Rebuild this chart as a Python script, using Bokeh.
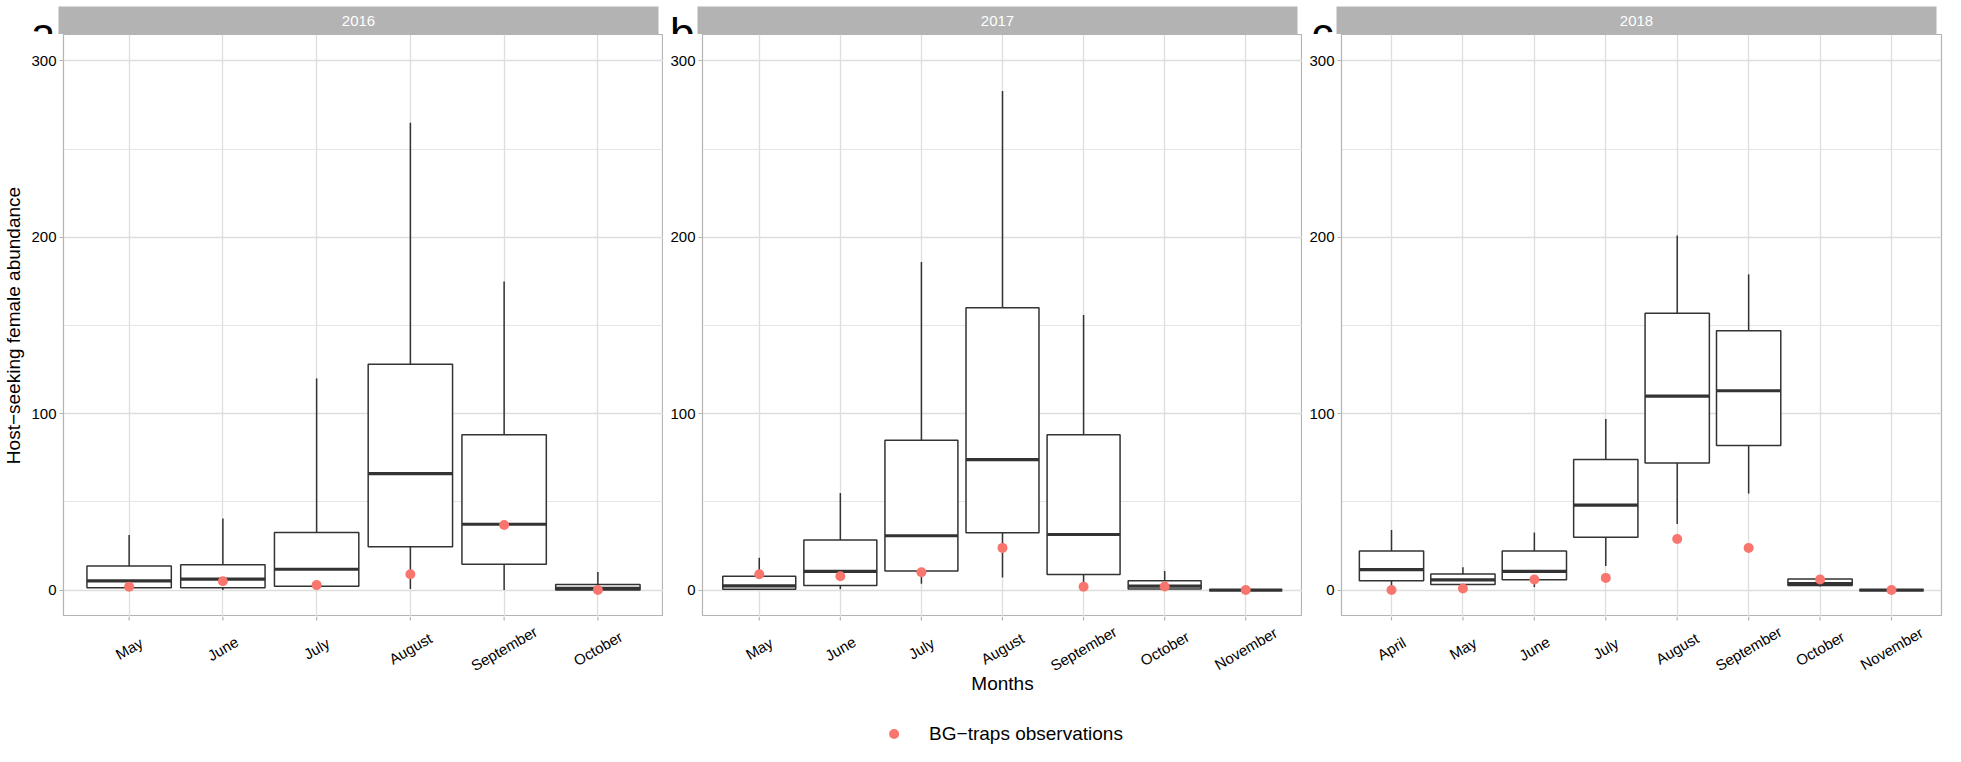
import math
import numpy as np
from bokeh.plotting import figure
from bokeh.models import (FactorRange, Range1d, FixedTicker, Label, Legend, LegendItem,
                          ColumnDataSource, BoxAnnotation)
from bokeh.layouts import row, column
from bokeh.embed import file_html
from bokeh.resources import INLINE
from bokeh.core.properties import value

# ---------------- data ----------------
years = ["2016", "2017", "2018"]
panel_tags = ["a", "b", "c"]

months_2016 = ["May", "June", "July", "August", "September", "October"]
low_2016 = [0, 0, 0.5, 0.6, 0, 0]
q1_2016 = [1.3, 1.3, 2.2, 24.6, 14.6, 0]
med_2016 = [5.2, 6.2, 11.8, 66, 37.3, 0.9]
q3_2016 = [13.6, 14.4, 32.6, 128, 88, 3.2]
high_2016 = [31.2, 40.5, 120, 265, 175, 10.3]
bg_2016 = [1.9, 5.0, 2.8, 9.0, 36.9, 0]

months_2017 = ["May", "June", "July", "August", "September", "October", "November"]
low_2017 = [0, 0.5, 3.5, 7.1, 1.5, 0, 0]
q1_2017 = [0.4, 2.6, 10.8, 32.5, 8.8, 0.6, 0]
med_2017 = [2.4, 10.6, 30.8, 74, 31.5, 2.2, 0]
q3_2017 = [7.8, 28.4, 85, 160, 88, 5.2, 0]
high_2017 = [18.3, 55, 186, 283, 156, 10.8, 0]
bg_2017 = [9.0, 7.8, 10.1, 23.9, 1.9, 2.0, 0]

months_2018 = ["April", "May", "June", "July", "August", "September", "October", "November"]
low_2018 = [0, 2.0, 1.7, 13.6, 37.5, 54.7, 2.0, 0]
q1_2018 = [5.2, 3.2, 5.8, 30, 72, 82, 2.6, 0]
med_2018 = [11.6, 5.8, 10.6, 48.1, 110, 113, 3.7, 0]
q3_2018 = [22.2, 9.1, 22.2, 74, 157, 147, 6.2, 0]
high_2018 = [34.1, 12.9, 32.6, 97, 201, 179, 6.2, 0]
bg_2018 = [0, 0.9, 6.0, 6.9, 28.9, 23.9, 6.0, 0]

y_ticks = [0, 100, 200, 300]
y_minor = [50, 150, 250]
y_title = "Host\u2212seeking female abundance"
x_title = "Months"
legend_label = "BG\u2212traps observations"

# ---------------- styling / layout constants ----------------
FONT = "Liberation Sans"
BOX_COLOR = "#333333"
DOT_COLOR = "#F8766D"
GRID = "#dedede"
BORDER = "#b3b3b3"

FRAME_W = 600
FRAME_H = 582
STRIP_H = 28
STRIP_TOP = 6        # white space above the grey strips (room for the tag letters)
LBL_H = 130          # ticks + rotated labels + axis title + legend
TICK_LEN = 4
LABEL_Y = 32         # px below panel bottom (label centres)
TITLE_Y = 67         # px below panel bottom ("Months")
LEFTS = [58, 39, 39]
RIGHTS = [0, 0, 2]

panels_data = [
    (months_2016, low_2016, q1_2016, med_2016, q3_2016, high_2016, bg_2016),
    (months_2017, low_2017, q1_2017, med_2017, q3_2017, high_2017, bg_2017),
    (months_2018, low_2018, q1_2018, med_2018, q3_2018, high_2018, bg_2018),
]

TOTAL_W = sum(LEFTS) + 3 * FRAME_W + sum(RIGHTS)

# ---- one full-width strip figure: grey facet strips, year labels and panel tags ----
strip_h = STRIP_TOP + STRIP_H
strips = figure(frame_width=TOTAL_W, frame_height=strip_h, x_range=Range1d(0, TOTAL_W),
                y_range=Range1d(0, strip_h), x_axis_location=None, y_axis_location=None,
                toolbar_location=None, output_backend="svg", title=None,
                min_border_left=0, min_border_right=0, min_border_top=0, min_border_bottom=0)
strips.background_fill_color = "white"
strips.outline_line_color = None
strips.grid.visible = False
x0 = 0
for i in range(3):
    fl = x0 + LEFTS[i]
    strips.add_layout(BoxAnnotation(left=fl, right=fl + FRAME_W, bottom=0, top=STRIP_H,
                                    fill_color=BORDER, fill_alpha=1.0, line_color=None))
    strips.add_layout(Label(x=fl + FRAME_W / 2, y=STRIP_H / 2, text=years[i],
                            text_align="center", text_baseline="middle",
                            text_color="white", text_font_size="15px", text_font=FONT))
    strips.add_layout(Label(x=fl - 3, y=1, text=panel_tags[i], text_align="right",
                            text_baseline="alphabetic", text_color="black",
                            text_font_size="44px", text_font=FONT))
    x0 = fl + FRAME_W + RIGHTS[i]


def build(i, months, low, q1, med, q3, high, bg):
    left, right = LEFTS[i], RIGHTS[i]
    common = dict(frame_width=FRAME_W, toolbar_location=None, output_backend="svg",
                  min_border_left=left, min_border_right=right, title=None,
                  min_border_top=0, min_border_bottom=0)

    # ---- panel ----
    src = ColumnDataSource(dict(month=months, low=low, q1=q1, med=med, q3=q3,
                                high=high, bg=bg))
    xr = FactorRange(factors=months, range_padding=0.2, range_padding_units="absolute")
    p = figure(frame_height=FRAME_H, x_range=xr, y_range=Range1d(-15, 315), **common)
    p.background_fill_color = "white"
    p.outline_line_color = BORDER
    p.outline_line_width = 1.2
    p.xaxis.visible = False
    p.xgrid.grid_line_color = GRID
    p.xgrid.grid_line_width = 1.3
    p.ygrid.grid_line_color = GRID
    p.ygrid.grid_line_width = 1.3
    p.ygrid.minor_grid_line_color = GRID
    p.ygrid.minor_grid_line_width = 0.8
    p.yaxis.ticker = FixedTicker(ticks=y_ticks, minor_ticks=y_minor)
    ax = p.yaxis[0]
    ax.axis_line_color = None
    ax.major_tick_line_color = BORDER
    ax.major_tick_line_width = 1.2
    ax.major_tick_out = TICK_LEN
    ax.major_tick_in = 0
    ax.minor_tick_line_color = None
    ax.major_label_text_font = FONT
    ax.major_label_text_font_size = "15px"
    ax.major_label_text_color = "black"
    ax.major_label_standoff = 3
    if i == 0:
        ax.axis_label = y_title
        ax.axis_label_text_font = FONT
        ax.axis_label_text_font_size = "19px"
        ax.axis_label_text_font_style = "normal"
        ax.axis_label_text_color = "black"
        ax.axis_label_standoff = 4

    p.segment(x0="month", y0="low", x1="month", y1="high", source=src,
              line_color=BOX_COLOR, line_width=1.5)
    p.vbar(x="month", bottom="q1", top="q3", width=0.9, source=src,
           fill_color="white", line_color=BOX_COLOR, line_width=1.5)
    p.vbar(x="month", bottom="med", top="med", width=0.9, source=src,
           fill_color=None, line_color=BOX_COLOR, line_width=3.2)
    p.scatter(x="month", y="bg", source=src, size=10, fill_color=DOT_COLOR,
              line_color=None)

    # ---- x ticks, rotated month labels (and, in the middle, title + legend) ----
    lab = figure(frame_height=LBL_H, x_range=xr, y_range=Range1d(LBL_H, 0),
                 x_axis_location=None, y_axis_location=None, **common)
    lab.outline_line_color = None
    lab.grid.visible = False
    lab.segment(x0="month", x1="month", y0=0, y1=TICK_LEN, source=src,
                line_color=BORDER, line_width=1.2)
    lab.text(x="month", y=LABEL_Y, text="month", source=src, angle=math.pi / 6,
             text_align="center", text_baseline="middle", text_color="black",
             text_font=value(FONT), text_font_size="15px")
    if i == 1:
        lab.add_layout(Label(x=len(months) / 2, y=TITLE_Y, text=x_title,
                             text_align="center", text_baseline="middle",
                             text_color="black", text_font_size="19px", text_font=FONT))
        proxy = lab.scatter(x=np.array([np.nan]), y=np.array([np.nan]), size=10,
                            fill_color=DOT_COLOR, line_color=None)
        legend = Legend(items=[LegendItem(label=legend_label, renderers=[proxy])],
                        location="bottom_center", orientation="horizontal",
                        border_line_color=None, background_fill_alpha=0,
                        label_text_font=FONT, label_text_font_size="19px",
                        label_text_color="black",
                        glyph_width=25, glyph_height=25, label_standoff=23,
                        padding=0, margin=0, spacing=0)
        lab.add_layout(legend)

    return column(p, lab, spacing=0)


cols = [build(i, *d) for i, d in enumerate(panels_data)]
layout = column(strips, row(*cols, spacing=0), spacing=0)

with open("out.html", "w") as f:
    f.write(file_html(layout, INLINE))
